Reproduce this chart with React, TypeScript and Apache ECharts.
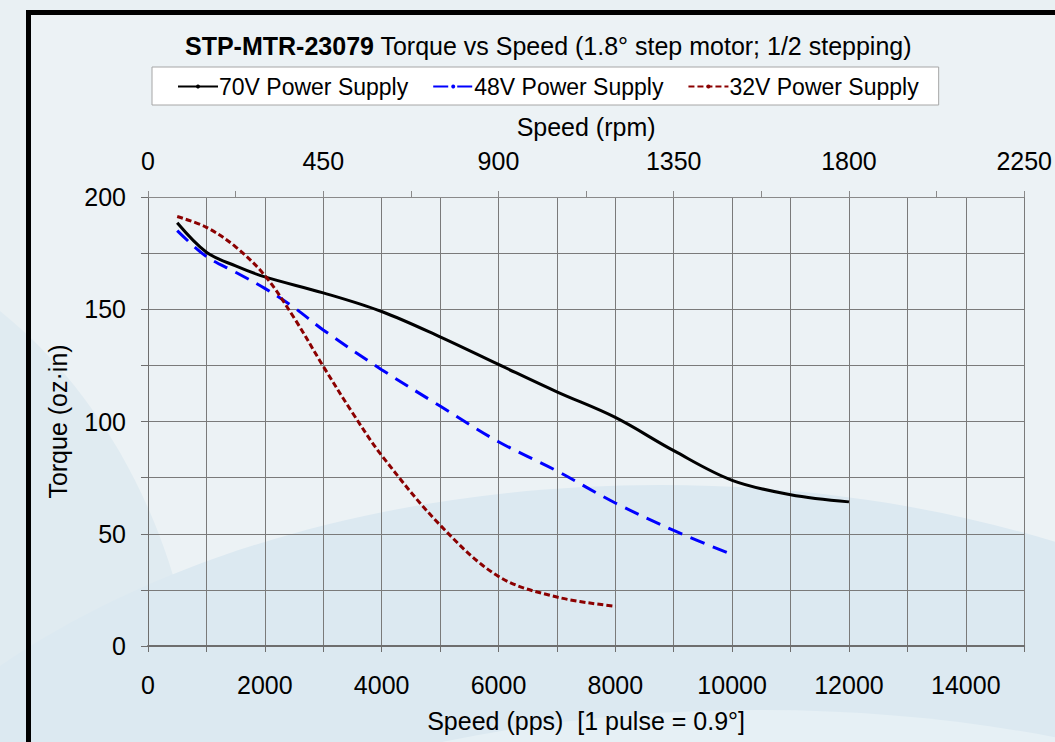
import React, { useEffect, useRef } from "react";
import * as echarts from "echarts";

const titleBold = "STP-MTR-23079";
const titleRest = " Torque vs Speed (1.8° step motor; 1/2 stepping)";
const seriesNames = ["70V Power Supply", "48V Power Supply", "32V Power Supply"];

const speeds70 = [500, 1000, 1500, 2000, 3000, 4000, 5000, 6000, 7000, 8000, 9000, 10000, 11000, 12000];
const torque70 = [188.5, 175.4, 169.3, 164.4, 157.3, 149, 137.7, 125.4, 113.2, 101.8, 87, 73.8, 67.4, 64.2];

const speeds48 = [500, 1000, 1500, 2000, 2500, 3000, 4000, 5000, 6000, 7000, 8000, 9000, 10000];
const torque48 = [185, 173.5, 166.5, 159.3, 150.8, 140.8, 123.1, 106.9, 91, 78, 63.7, 51.5, 40.7];

const speeds32 = [500, 1000, 1500, 2000, 2500, 3000, 3500, 4000, 5000, 6000, 7000, 8000];
const torque32 = [191.3, 186.5, 177.8, 165, 146.2, 124.6, 103.9, 84.9, 53.9, 31, 21.8, 17.7];

const ppsMax = 15000;
const rpmMax = 2250;
const torqueMax = 200;

const FONT = "Liberation Sans";

function pairs(xs: number[], ys: number[]) {
  return xs.map((x, i) => [x, ys[i]]);
}

export default function App() {
  const ref = useRef<HTMLDivElement>(null);
  useEffect(() => {
    if (!ref.current) return;
    const chart = echarts.init(ref.current, null, { renderer: "svg" });
    const gridColor = "#7a7a7a";
    const option: any = {
      animation: false,
      backgroundColor: "#e9f0f3",
      textStyle: { fontFamily: FONT, color: "#000" },
      graphic: [
        { type: "rect", z: -100, shape: { x: 28, y: 12, width: 1100, height: 800 }, style: { fill: "#ecf2f5" } },
        { type: "ellipse", z: -99, shape: { cx: -250, cy: 760, rx: 450, ry: 540 }, style: { fill: "#e0ebf1" } },
        { type: "ellipse", z: -97, shape: { cx: 660, cy: 1020, rx: 880, ry: 535 }, style: { fill: "#dce9f1" } },
        { type: "ellipse", z: -96, shape: { cx: 760, cy: 1060, rx: 760, ry: 350 }, style: { fill: "#e6f0f5" } },
        { type: "rect", z: 100, shape: { x: 28.5, y: 12.5, width: 1100, height: 800 }, style: { fill: "none", stroke: "#000", lineWidth: 5 } },
      ],
      title: {
        text: "{b|" + titleBold + "}" + titleRest,
        left: 180,
        top: 28,
        textStyle: {
          fontFamily: FONT,
          fontSize: 25,
          fontWeight: "normal",
          color: "#000",
          rich: { b: { fontFamily: FONT, fontSize: 25, fontWeight: "bold", color: "#000" } },
        },
      },
      legend: {
        left: 152,
        top: 67,
        backgroundColor: "#ffffff",
        borderColor: "#a6a6a6",
        borderWidth: 1,
        padding: [8, 20, 7, 25],
        itemWidth: 40,
        itemHeight: 5,
        itemGap: 24,
        textStyle: { fontFamily: FONT, fontSize: 23, color: "#000", padding: [0, 0, 0, -4] },
        data: seriesNames,
      },
      grid: { left: 148, right: 24, top: 197, bottom: 96 },
      xAxis: [
        {
          type: "value",
          position: "bottom",
          min: 0,
          max: ppsMax,
          interval: 1000,
          name: "Speed (pps)  [1 pulse = 0.9°]",
          nameLocation: "middle",
          nameGap: 62,
          nameTextStyle: { fontFamily: FONT, fontSize: 25, color: "#000" },
          axisLine: { show: true, lineStyle: { color: "#6e6e6e", width: 2 } },
          axisTick: { show: true, length: 6, lineStyle: { color: "#6e6e6e" } },
          axisLabel: {
            fontFamily: FONT,
            fontSize: 25,
            color: "#000",
            margin: 26,
            formatter: (v: number) => (v % 2000 === 0 ? String(v) : ""),
          },
          splitLine: { show: true, lineStyle: { color: gridColor, width: 1 } },
        },
        {
          type: "value",
          position: "top",
          min: 0,
          max: rpmMax,
          interval: 225,
          name: "Speed (rpm)",
          nameLocation: "middle",
          nameGap: 58,
          nameTextStyle: { fontFamily: FONT, fontSize: 25, color: "#000" },
          axisLine: { show: true, lineStyle: { color: "#8a8a8a", width: 1 } },
          axisTick: { show: true, length: 6, lineStyle: { color: "#8a8a8a" } },
          axisLabel: {
            fontFamily: FONT,
            fontSize: 25,
            color: "#000",
            margin: 24,
            formatter: (v: number) => (v % 450 === 0 ? String(v) : ""),
          },
          splitLine: { show: false },
        },
      ],
      yAxis: {
        type: "value",
        min: 0,
        max: torqueMax,
        interval: 25,
        name: "Torque (oz·in)",
        nameLocation: "middle",
        nameGap: 78,
        nameTextStyle: { fontFamily: FONT, fontSize: 25, color: "#000" },
        axisLine: { show: true, lineStyle: { color: "#6e6e6e", width: 1 } },
        axisTick: { show: true, length: 7, lineStyle: { color: "#6e6e6e" } },
        axisLabel: {
          fontFamily: FONT,
          fontSize: 25,
          color: "#000",
          margin: 22,
          formatter: (v: number) => (v % 50 === 0 ? String(v) : ""),
        },
        splitLine: { show: true, lineStyle: { color: gridColor, width: 1 } },
      },
      series: [
        {
          name: seriesNames[0],
          type: "line",
          xAxisIndex: 0,
          data: pairs(speeds70, torque70),
          smooth: 0.35,
          symbol: "circle",
          symbolSize: 4,
          showSymbol: false,
          itemStyle: { color: "#000000" },
          lineStyle: { color: "#000000", width: 3 },
          z: 4,
        },
        {
          name: seriesNames[1],
          type: "line",
          xAxisIndex: 0,
          data: pairs(speeds48, torque48),
          smooth: 0.35,
          symbol: "circle",
          symbolSize: 4,
          showSymbol: false,
          itemStyle: { color: "#0000ff" },
          lineStyle: { color: "#0000ff", width: 3, type: [15, 9] },
          z: 3,
        },
        {
          name: seriesNames[2],
          type: "line",
          xAxisIndex: 0,
          data: pairs(speeds32, torque32),
          smooth: 0.35,
          symbol: "circle",
          symbolSize: 4,
          showSymbol: false,
          itemStyle: { color: "#8b0000" },
          lineStyle: { color: "#8b0000", width: 3, type: [6, 3] },
          z: 5,
        },
      ],
    };
    chart.setOption(option);
    return () => chart.dispose();
  }, []);
  return (
    <div
      ref={ref}
      style={{ position: "absolute", left: 0, top: 0, width: 1055, height: 742 }}
    />
  );
}
